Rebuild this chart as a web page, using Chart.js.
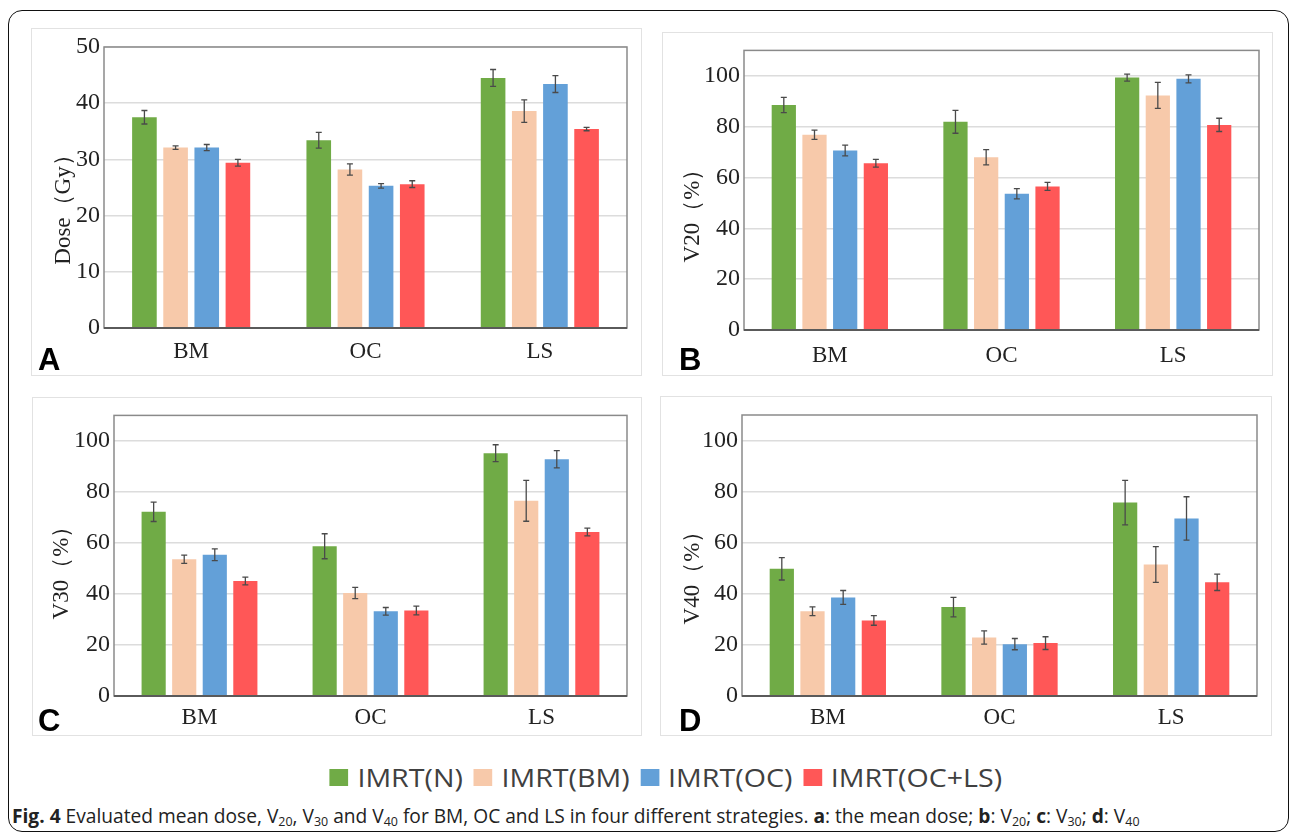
<!DOCTYPE html>
<html>
<head>
<meta charset="utf-8">
<script src="https://cdn.jsdelivr.net/npm/chart.js@4/dist/chart.umd.min.js"></script>
<style>
  html, body { margin: 0; padding: 0; background: #fff; }
  body { width: 1292px; height: 833px; position: relative; overflow: hidden; }
  .frame { position: absolute; left: 8px; top: 10px; width: 1281px; height: 822px;
    border: 1.5px solid #111; border-radius: 14px; box-sizing: border-box; }
  .box { position: absolute; border: 1.5px solid #e2e2e2; box-sizing: border-box; pointer-events: none; }
  canvas { position: absolute; }
  .letter { position: absolute; font: bold 31px "Liberation Sans", Arial, sans-serif; color: #000; line-height: 1; }
  .ytitle { position: absolute; font: 23px "Liberation Serif", "Times New Roman", serif; color: #222;
    white-space: nowrap; transform: translate(-50%, -50%) rotate(-90deg); }
  .legend { position: absolute; left: 0; top: 759px; width: 1292px; display: flex; justify-content: center;
    font: 26px "Open Sans", sans-serif; color: #404040; padding-left: 40px; box-sizing: border-box;
    transform: scaleX(1.1); transform-origin: 666px 0; }
  .legend span.item { display: flex; align-items: center; margin: 0 5px; }
  .legend i { display: inline-block; width: 17px; height: 17px; margin-right: 8px; }
  .caption { position: absolute; left: 12px; top: 802px; font: 20px "Open Sans", sans-serif;
    color: #222; white-space: nowrap; transform: scaleX(0.958); transform-origin: 0 0; }
  .caption sub { font-size: 13px; vertical-align: -3px; line-height: 0; }
</style>
</head>
<body>
<div class="frame"></div>

<canvas id="chartA"></canvas>
<canvas id="chartB"></canvas>
<canvas id="chartC"></canvas>
<canvas id="chartD"></canvas>

<div class="legend" id="legend"></div>
<div class="caption"><b>Fig. 4</b> Evaluated mean dose, V<sub>20</sub>, V<sub>30</sub> and V<sub>40</sub> for BM, OC and LS in four different strategies. <b>a</b>: the mean dose; <b>b</b>: V<sub>20</sub>; <b>c</b>: V<sub>30</sub>; <b>d</b>: V<sub>40</sub></div>

<script>
// categories and strategies
const categories = ['BM', 'OC', 'LS'];
const strategies = ['IMRT(N)', 'IMRT(BM)', 'IMRT(OC)', 'IMRT(OC+LS)'];
const colors = ['#70ab46', '#f7c9aa', '#63a0d8', '#ff5757'];

// y tick labels
const doseTicks = [0, 10, 20, 30, 40, 50];
const pctTicks = [0, 20, 40, 60, 80, 100];

// one row per strategy, one value per category (BM, OC, LS)
const doseMean = [
  [37.5, 33.4, 44.5],
  [32.1, 28.2, 38.6],
  [32.1, 25.3, 43.4],
  [29.4, 25.6, 35.4],
];
const doseErr = [
  [1.2, 1.4, 1.5],
  [0.3, 1.0, 2.0],
  [0.55, 0.4, 1.5],
  [0.6, 0.6, 0.3],
];
const v20Mean = [
  [88.5, 81.9, 99.3],
  [76.8, 68.0, 92.3],
  [70.6, 53.6, 98.8],
  [65.6, 56.5, 80.7],
];
const v20Err = [
  [3.0, 4.5, 1.4],
  [1.8, 3.0, 5.1],
  [2.1, 2.0, 1.6],
  [1.5, 1.6, 2.6],
];
const v30Mean = [
  [72.2, 58.7, 95.2],
  [53.6, 40.4, 76.5],
  [55.4, 33.2, 92.8],
  [45.1, 33.5, 64.3],
];
const v30Err = [
  [3.8, 4.9, 3.3],
  [1.6, 2.2, 8.0],
  [2.3, 1.5, 3.4],
  [1.5, 1.7, 1.5],
];
const v40Mean = [
  [49.8, 34.8, 75.7],
  [33.2, 22.9, 51.5],
  [38.6, 20.3, 69.5],
  [29.6, 20.7, 44.5],
];
const v40Err = [
  [4.4, 3.8, 8.7],
  [1.7, 2.6, 7.0],
  [2.7, 2.2, 8.5],
  [1.9, 2.5, 3.2],
];

// box = panel border, plot = chart area (page pixels)
const panels = [
  {id: 'chartA', letter: 'A', title: 'Dose（Gy）', mean: doseMean, err: doseErr, max: 50, ticks: doseTicks,
    box: [31, 28, 642, 376], plot: [104, 47, 627, 328], titleAt: [62, 204], letterAt: [38, 344], tickPad: 10},
  {id: 'chartB', letter: 'B', title: 'V20（%）', mean: v20Mean, err: v20Err, max: 110, ticks: pctTicks,
    box: [662, 32, 1273, 376], plot: [744, 50, 1259, 330], titleAt: [691, 210], letterAt: [679, 344], tickPad: 12},
  {id: 'chartC', letter: 'C', title: 'V30（%）', mean: v30Mean, err: v30Err, max: 110, ticks: pctTicks,
    box: [32, 397, 642, 736], plot: [114, 415, 627, 696], titleAt: [60, 567], letterAt: [38, 705], tickPad: 8},
  {id: 'chartD', letter: 'D', title: 'V40（%）', mean: v40Mean, err: v40Err, max: 110, ticks: pctTicks,
    box: [660, 396, 1272, 736], plot: [742, 415, 1257, 696], titleAt: [691, 572], letterAt: [679, 705], tickPad: 8},
];

const errorBars = {
  id: 'errorBars',
  afterDatasetsDraw(chart) {
    const ctx = chart.ctx;
    const y = chart.scales.y;
    ctx.save();
    ctx.strokeStyle = '#4a4a4a';
    ctx.lineWidth = 1.3;
    chart.data.datasets.forEach((ds, i) => {
      chart.getDatasetMeta(i).data.forEach((bar, j) => {
        const top = y.getPixelForValue(ds.data[j] + ds.errors[j]);
        const bot = y.getPixelForValue(ds.data[j] - ds.errors[j]);
        ctx.beginPath();
        ctx.moveTo(bar.x, top); ctx.lineTo(bar.x, bot);
        ctx.moveTo(bar.x - 3, top); ctx.lineTo(bar.x + 3, top);
        ctx.moveTo(bar.x - 3, bot); ctx.lineTo(bar.x + 3, bot);
        ctx.stroke();
      });
    });
    ctx.restore();
  },
};

const plotFrame = {
  id: 'plotFrame',
  afterDraw(chart) {
    const {left, top, right, bottom} = chart.chartArea;
    const ctx = chart.ctx;
    ctx.save();
    ctx.strokeStyle = '#8a8a8a';
    ctx.lineWidth = 1.5;
    ctx.strokeRect(left, top, right - left, bottom - top);
    ctx.strokeStyle = '#5a5a5a';
    ctx.lineWidth = 2;
    ctx.beginPath();
    ctx.moveTo(left, bottom); ctx.lineTo(right, bottom);
    ctx.stroke();
    ctx.restore();
  },
};

const serif = '"Liberation Serif", "Times New Roman", serif';

panels.forEach((p) => {
  const [bl, bt, br, bb] = p.box;
  const [pl, pt, pr, pb] = p.plot;
  const canvas = document.getElementById(p.id);
  canvas.width = br - bl;
  canvas.height = bb - bt;
  canvas.style.left = bl + 'px';
  canvas.style.top = bt + 'px';
  canvas.style.width = (br - bl) + 'px';
  canvas.style.height = (bb - bt) + 'px';

  const box = document.createElement('div');
  box.className = 'box';
  Object.assign(box.style, {left: bl + 'px', top: bt + 'px', width: (br - bl) + 'px', height: (bb - bt) + 'px'});
  document.body.appendChild(box);

  const letter = document.createElement('div');
  letter.className = 'letter';
  letter.textContent = p.letter;
  letter.style.left = p.letterAt[0] + 'px';
  letter.style.top = p.letterAt[1] + 'px';
  document.body.appendChild(letter);

  const title = document.createElement('div');
  title.className = 'ytitle';
  title.textContent = p.title;
  title.style.left = p.titleAt[0] + 'px';
  title.style.top = p.titleAt[1] + 'px';
  document.body.appendChild(title);

  new Chart(canvas, {
    type: 'bar',
    data: {
      labels: categories,
      datasets: strategies.map((name, i) => ({
        label: name,
        data: p.mean[i],
        errors: p.err[i],
        backgroundColor: colors[i],
        borderWidth: 0,
        categoryPercentage: 0.715,
        barPercentage: 0.79,
      })),
    },
    options: {
      responsive: false,
      animation: false,
      events: [],
      layout: {padding: {top: pt - bt, right: br - pr, left: 0, bottom: 0}},
      plugins: {legend: {display: false}, tooltip: {enabled: false}},
      scales: {
        x: {
          grid: {display: false, drawTicks: false},
          border: {display: false},
          ticks: {font: {family: serif, size: 23}, color: '#222', padding: p.tickPad},
          afterFit: (s) => { s.height = bb - pb; },
        },
        y: {
          min: 0,
          max: p.max,
          grid: {color: '#dcdcdc', lineWidth: 1.5, drawTicks: false},
          border: {display: false},
          ticks: {autoSkip: false, font: {family: serif, size: 24}, color: '#222', padding: 4},
          afterBuildTicks: (s) => { s.ticks = p.ticks.map((v) => ({value: v})); },
          afterFit: (s) => { s.width = pl - bl; },
        },
      },
    },
    plugins: [errorBars, plotFrame],
  });
});

// shared legend
const legend = document.getElementById('legend');
strategies.forEach((name, i) => {
  const item = document.createElement('span');
  item.className = 'item';
  item.innerHTML = '<i style="background:' + colors[i] + '"></i>' + name;
  legend.appendChild(item);
});
</script>
</body>
</html>
